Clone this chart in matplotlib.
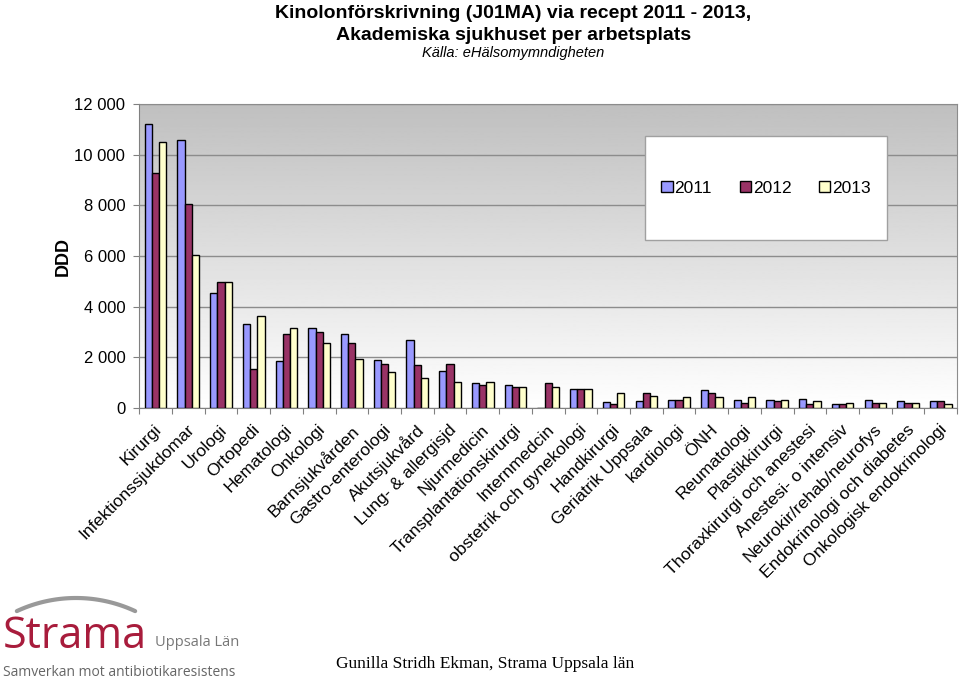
'''
Kinolonförskrivning per arbetsplats, Akademiska sjukhuset 2011 - 2013
'''

import numpy as np
import matplotlib
matplotlib.use('Agg')
import matplotlib.pyplot as plt
from matplotlib.patches import Rectangle
from matplotlib.lines import Line2D

plt.rcParams['font.family'] = ['Liberation Sans', 'DejaVu Sans']

## data
categories = ['Kirurgi', 'Infektionssjukdomar', 'Urologi', 'Ortopedi', 'Hematologi',
	'Onkologi', 'Barnsjukvården', 'Gastro-enterologi', 'Akutsjukvård', 'Lung- & allergisjd',
	'Njurmedicin', 'Transplantationskirurgi', 'Internmedcin', 'obstetrik och gynekologi',
	'Handkirurgi', 'Geriatrik Uppsala', 'kardiologi', 'ÖNH', 'Reumatologi', 'Plastikkirurgi',
	'Thoraxkirurgi och anestesi', 'Anestesi- o intensiv', 'Neurokir/rehab/neurofys',
	'Endokrinologi och diabetes', 'Onkologisk endokrinologi']
y2011 = [11230, 10580, 4540, 3310, 1840, 3140, 2930, 1900, 2670, 1460,
	970, 915, 0, 745, 220, 260, 315, 690, 315, 315, 365, 160, 315, 260, 260]
y2012 = [9270, 8070, 4980, 1520, 2930, 2980, 2550, 1740, 1690, 1750,
	915, 810, 970, 745, 160, 600, 315, 600, 210, 260, 160, 160, 210, 210, 260]
y2013 = [10510, 6030, 4980, 3630, 3140, 2550, 1950, 1410, 1190, 1030,
	1020, 810, 810, 745, 600, 485, 420, 420, 420, 315, 260, 210, 210, 210, 160]
years = ['2011', '2012', '2013']
colors = ['#9999FF', '#993366', '#FFFFCC']


def plot_figure():
	fig = plt.figure(figsize=(9.6, 6.81), dpi=100)
	ax = fig.add_axes([0.145, 0.401, 0.852, 0.446])

	n = len(categories)
	x = np.arange(n)
	w = 0.22
	series = [y2011, y2012, y2013]
	for i in range(3):
		ax.bar(x + (i - 1) * w, series[i], width=w, color=colors[i], edgecolor='black',
			linewidth=1.0, label=years[i], zorder=3)

	ax.set_xlim(-0.5, n - 0.5)
	ax.set_ylim(0, 12000)

	# gradient background, grey at top to white at bottom
	grad = np.linspace(1.0, 0.75, 256).reshape(-1, 1)
	ax.imshow(grad, cmap='gray', vmin=0, vmax=1, aspect='auto',
		extent=[-0.5, n - 0.5, 0, 12000], origin='lower', zorder=0)

	ax.set_yticks(range(0, 12001, 2000))
	ax.set_yticklabels(['0', '2 000', '4 000', '6 000', '8 000', '10 000', '12 000'], fontsize=12)
	ax.yaxis.grid(True, color='#8c8c8c', linewidth=1.0, zorder=1)
	ax.set_axisbelow(False)
	for s in ['top', 'right']:
		ax.spines[s].set_color('#8c8c8c')
	for s in ['left', 'bottom']:
		ax.spines[s].set_color('#808080')
	ax.tick_params(axis='y', length=4, color='#808080', pad=6)

	ax.set_xticks(np.arange(-0.5, n, 1.0), minor=False)
	ax.set_xticklabels([])
	ax.tick_params(axis='x', length=4, color='#808080')
	for i, c in enumerate(categories):
		ax.text(i - 0.05, -550, c, rotation=45, ha='right', va='top',
			rotation_mode='anchor', fontsize=12.6)

	ax.set_ylabel('DDD', fontsize=13, fontweight='bold', labelpad=2)

	# legend box
	box = Rectangle((0.619, 0.553), 0.295, 0.342, transform=ax.transAxes,
		facecolor='white', edgecolor='#a0a0a0', linewidth=1.0, zorder=4)
	ax.add_patch(box)
	leg = ax.legend(loc='center', bbox_to_anchor=(0.7665, 0.724), ncol=3,
		frameon=False, fontsize=12.5, handlelength=0.65, handleheight=0.65,
		handletextpad=0.1, columnspacing=1.6, borderpad=0, borderaxespad=0)
	leg.set_zorder(5)

	# titles
	fig.text(0.535, 0.992, 'Kinolonförskrivning (J01MA) via recept 2011 - 2013,', ha='center',
		va='top', fontsize=14, fontweight='bold')
	fig.text(0.535, 0.961, 'Akademiska sjukhuset per arbetsplats', ha='center',
		va='top', fontsize=14, fontweight='bold')
	fig.text(0.535, 0.933, 'Källa: eHälsomymndigheten', ha='center', va='top',
		fontsize=10.5, style='italic')

	# logo: grey arc over the word, drawn in pixel units then scaled to the figure
	t = np.linspace(np.radians(65), np.radians(115), 60)
	ax_px = 76 + 140 * np.cos(t)
	ay_px = 738 - 140 * np.sin(t)
	fig.add_artist(Line2D(ax_px / 960, 1 - ay_px / 681, transform=fig.transFigure,
		color='#999999', linewidth=3, solid_capstyle='round'))
	fig.text(0.003, 0.032, 'Strama', fontsize=31, color='#a81c3c', ha='left', va='bottom',
		family=['Open Sans', 'DejaVu Sans'])
	fig.text(0.161, 0.046, 'Uppsala Län', fontsize=10.5, color='#777777', ha='left',
		va='bottom', family=['Open Sans', 'DejaVu Sans'])
	fig.text(0.003, 0.002, 'Samverkan mot antibiotikaresistens', fontsize=10,
		color='#666666', ha='left', va='bottom', family=['Open Sans', 'DejaVu Sans'])

	fig.text(0.505, 0.025, 'Gunilla Stridh Ekman, Strama Uppsala län', ha='center',
		va='center', fontsize=12.5, family=['Liberation Serif', 'DejaVu Serif'])

	fig.savefig('out.png', dpi=100)


## main function
if __name__ == '__main__':
	plot_figure()
